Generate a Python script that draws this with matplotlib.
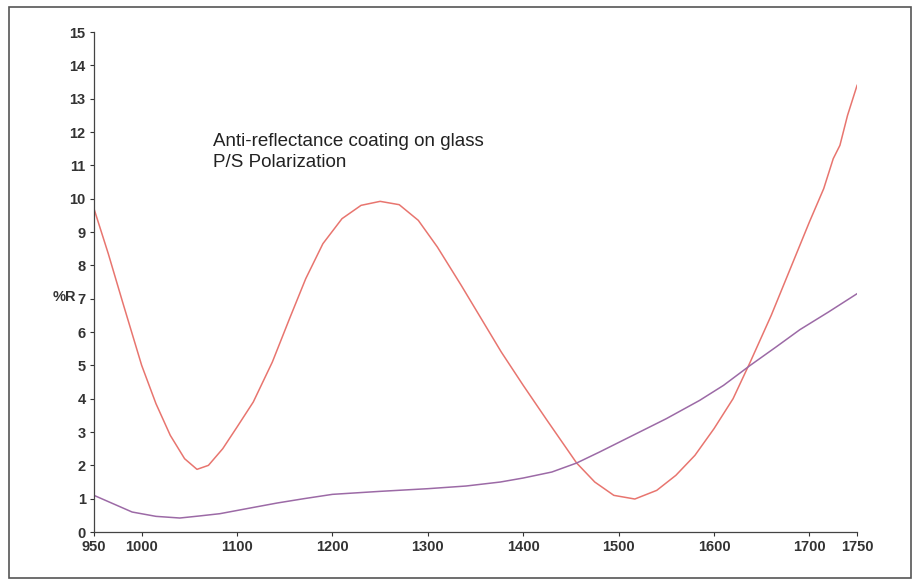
import matplotlib.pyplot as plt
from matplotlib.patches import Rectangle

# wavelength (nm) and reflectance (%R)
wl_p = [950, 965, 980, 1000, 1015, 1030, 1045, 1058, 1070, 1085, 1100, 1117, 1137, 1155,
        1172, 1190, 1210, 1230, 1250, 1270, 1290, 1310, 1335, 1356, 1377, 1400, 1425,
        1456, 1475, 1495, 1517, 1540, 1560, 1580, 1600, 1620, 1638, 1660, 1680, 1700,
        1715, 1725, 1732, 1740, 1750]
r_p = [9.7, 8.35, 6.9, 5.0, 3.85, 2.9, 2.2, 1.88, 2.0, 2.5, 3.15, 3.9, 5.1, 6.4,
       7.6, 8.65, 9.4, 9.8, 9.92, 9.82, 9.35, 8.55, 7.4, 6.4, 5.4, 4.4, 3.35,
       2.07, 1.5, 1.1, 0.99, 1.25, 1.7, 2.3, 3.1, 4.0, 5.1, 6.5, 7.9, 9.3,
       10.3, 11.2, 11.6, 12.5, 13.4]

wl_s = [950, 970, 990, 1015, 1040, 1060, 1082, 1110, 1142, 1170, 1200, 1250, 1300,
        1340, 1376, 1400, 1430, 1456, 1480, 1515, 1550, 1585, 1610, 1638, 1665, 1690,
        1720, 1750]
r_s = [1.1, 0.85, 0.6, 0.47, 0.42, 0.48, 0.55, 0.7, 0.87, 1.0, 1.13, 1.22, 1.3,
       1.38, 1.5, 1.62, 1.8, 2.07, 2.4, 2.9, 3.4, 3.95, 4.4, 5.0, 5.55, 6.07,
       6.6, 7.15]

x_ticks = [950, 1000, 1100, 1200, 1300, 1400, 1500, 1600, 1700, 1750]
y_ticks = list(range(0, 16))

plt.rcParams['font.family'] = ['Liberation Sans Narrow', 'Liberation Sans', 'DejaVu Sans']

fig = plt.figure(figsize=(9.15, 5.81), dpi=100)
ax = fig.add_axes([0.1027, 0.0843, 0.834, 0.8606])

ax.plot(wl_p, r_p, color='#e8756f', lw=1.1, solid_joinstyle='round')
ax.plot(wl_s, r_s, color='#9c6aa6', lw=1.1, solid_joinstyle='round')

ax.set_xlim(950, 1750)
ax.set_ylim(0, 15)
ax.set_xticks(x_ticks)
ax.set_yticks(y_ticks)
ax.tick_params(colors='#333333', labelsize=10.5, length=3, width=0.8, pad=3)
for lbl in ax.get_xticklabels() + ax.get_yticklabels():
    lbl.set_fontweight('bold')
for s in ['top', 'right']:
    ax.spines[s].set_visible(False)
for s in ['left', 'bottom']:
    ax.spines[s].set_color('#444444')
    ax.spines[s].set_linewidth(0.9)

fig.text(0.057, (581 - 297) / 581, '%R', fontsize=10.5, fontweight='bold', color='#333333',
         va='center', ha='left')

fig.text(213 / 915, (581 - 152) / 581, 'Anti-reflectance coating on glass\nP/S Polarization',
         family=['Liberation Sans', 'DejaVu Sans'], fontsize=13.5, color='#222222',
         va='center', ha='left', linespacing=1.3)

fig.patches.append(Rectangle((9 / 915, 3 / 581), 902 / 915, 571 / 581, transform=fig.transFigure,
                             fill=False, edgecolor='#555555', lw=1.2))

fig.savefig('out.png', dpi=100)
